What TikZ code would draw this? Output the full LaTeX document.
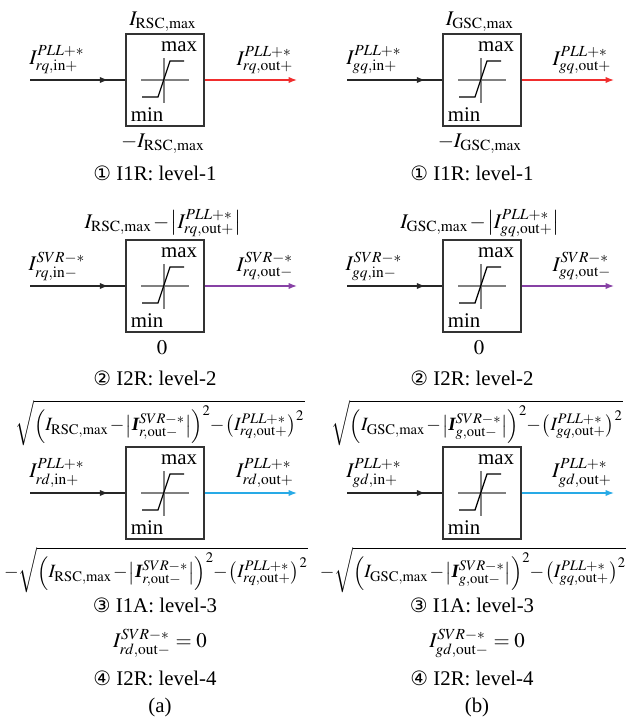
\documentclass[tikz,border=0pt]{standalone}
\usepackage{amsmath}
\usepackage{mathptmx}
\usepackage{fontspec}
\setmainfont{Liberation Serif}
\newfontfamily\circfont{DejaVu Sans}
\usetikzlibrary{arrows.meta,decorations.markings}

\definecolor{limred}{RGB}{240,45,45}
\definecolor{limpurple}{RGB}{135,65,165}
\definecolor{limcyan}{RGB}{40,170,230}

\newcommand{\circnum}[1]{{\circfont\fontsize{9.5}{10}\selectfont #1}}
\newcommand{\bIvec}{\text{\bfseries\itshape I}}
\newcommand{\rootterm}[2]{\medmuskip=1mu\sqrt{\Bigl(I_{\mathrm{#2,max}}-\bigl|\bIvec^{SVR-*}_{#1,\mathrm{out-}}\bigr|\Bigr)^2\!-\bigl(I^{PLL+*}_{#1q,\mathrm{out+}}\bigr)^2}}

\tikzset{
  limiter/.style={draw=black!80, line width=0.6pt, minimum width=37.4pt, minimum height=44.2pt, inner sep=0pt},
  feed/.style={line width=0.6pt, black!85, postaction={decorate},
    decoration={markings, mark=at position 0.82 with {\arrow{Latex[length=4pt,width=3pt]}}}},
  outflow/.style={line width=0.6pt, -{Latex[length=4pt,width=3pt]}},
  lbl/.style={inner sep=0pt},
  pics/satcurve/.style={code={
    \draw[gray, line width=0.7pt] (-24,0) -- (24,0) (-1,-22) -- (-1,23);
    \draw[line width=0.6pt] (-23,17) -- (-7,17) -- (5,-19) -- (19,-19);
    \node[lbl] (-max) at (14,-33) {max};
    \node[lbl] (-min) at (-18,35) {min};
  }}
}

\begin{document}
\begin{tikzpicture}[x=0.48pt, y=-0.48pt]
\useasboundingbox (0,0) rectangle (643,717);

\foreach \dx/\cv/\conv/\pn in {0/r/RSC/a, 317/g/GSC/b} {
\begin{scope}[shift={(\dx,0)}]
  % level 1
  \node[limiter] (one\pn) at (165,80) {};
  \pic (curveA\pn) at (one\pn.center) {satcurve};
  \coordinate (oneIn\pn) at (30,80);
  \coordinate (oneOut\pn) at (297,80);
  \draw[feed] (oneIn\pn) -- (one\pn.west);
  \draw[outflow, limred] (one\pn.east) -- (oneOut\pn);
  \node[lbl] (oneInL\pn) at (57,60) {$I^{PLL+*}_{\cv q,\mathrm{in+}}$};
  \node[lbl] (oneOutL\pn) at (265,60) {$I^{PLL+*}_{\cv q,\mathrm{out+}}$};
  \node[lbl] (oneTop\pn) at (163,22) {$I_{\mathrm{\conv,max}}$};
  \node[lbl] (oneBot\pn) at (163,144) {$-I_{\mathrm{\conv,max}}$};
  \node[lbl] (oneCap\pn) at (155,173) {\circnum{①} I1R: level-1};

  % level 2
  \node[limiter] (two\pn) at (165,286) {};
  \pic (curveB\pn) at (two\pn.center) {satcurve};
  \coordinate (twoIn\pn) at (30,286);
  \coordinate (twoOut\pn) at (297,286);
  \draw[feed] (twoIn\pn) -- (two\pn.west);
  \draw[outflow, limpurple] (two\pn.east) -- (twoOut\pn);
  \node[lbl] (twoInL\pn) at (57,266) {$I^{SVR-*}_{\cv q,\mathrm{in-}}$};
  \node[lbl] (twoOutL\pn) at (265,266) {$I^{SVR-*}_{\cv q,\mathrm{out-}}$};
  \node[lbl] (twoTop\pn) at (163,223) {$\medmuskip=1mu I_{\mathrm{\conv,max}}-\bigl|I^{PLL+*}_{\cv q,\mathrm{out+}}\bigr|$};
  \node[lbl] (twoBot\pn) at (162,348) {$0$};
  \node[lbl] (twoCap\pn) at (155,378) {\circnum{②} I2R: level-2};

  % level 3
  \node[limiter] (three\pn) at (165,493) {};
  \pic (curveC\pn) at (three\pn.center) {satcurve};
  \coordinate (threeIn\pn) at (30,493);
  \coordinate (threeOut\pn) at (297,493);
  \draw[feed] (threeIn\pn) -- (three\pn.west);
  \draw[outflow, limcyan] (three\pn.east) -- (threeOut\pn);
  \node[lbl] (threeInL\pn) at (57,473) {$I^{PLL+*}_{\cv d,\mathrm{in+}}$};
  \node[lbl] (threeOutL\pn) at (265,473) {$I^{PLL+*}_{\cv d,\mathrm{out+}}$};
  \node[lbl, font=\small] (threeTop\pn) at (160,423) {$\rootterm{\cv}{\conv}$};
  \node[lbl, font=\small] (threeBot\pn) at (156,570) {$-\rootterm{\cv}{\conv}$};
  \node[lbl] (threeCap\pn) at (155,605) {\circnum{③} I1A: level-3};

  % level 4
  \node[lbl] (fourEq\pn) at (160,643) {$I^{SVR-*}_{\cv d,\mathrm{out-}}=0$};
  \node[lbl] (fourCap\pn) at (155,678) {\circnum{④} I2R: level-4};
  \node[lbl] (sub\pn) at (160,707) {(\pn)};
\end{scope}
}
\end{tikzpicture}
\end{document}
